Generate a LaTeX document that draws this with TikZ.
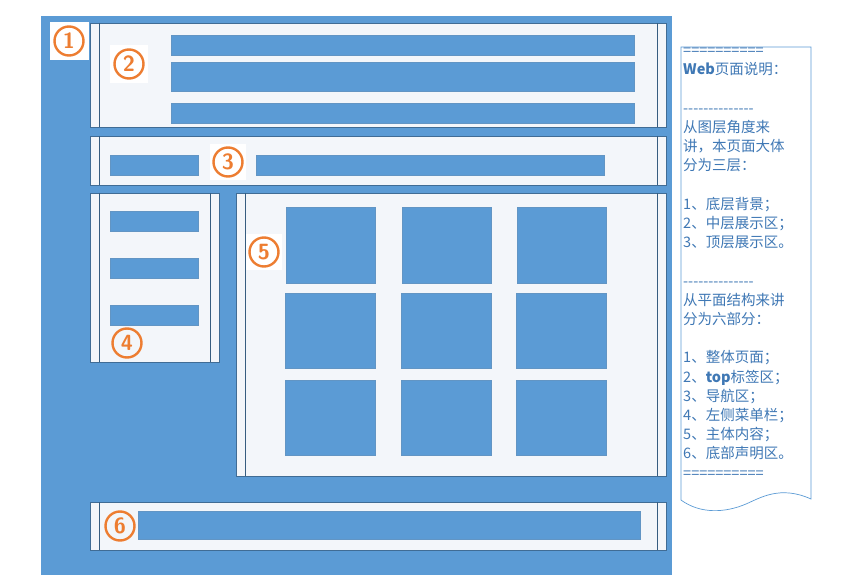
\documentclass[tikz,border=0pt]{standalone}
\usepackage{fontspec}
\newfontfamily\cjk{Noto Sans CJK SC}
\definecolor{mb}{HTML}{5B9BD5}
\definecolor{pl}{HTML}{F3F6FA}
\definecolor{og}{HTML}{ED7D31}
\definecolor{tx}{HTML}{3F78B5}
\tikzset{
 panel/.style={fill=pl,draw=mb!70!black,line width=0.6pt},
 bar/.style={fill=mb,draw=mb!80!gray,line width=0.4pt},
 numc/.style={circle,draw=og,line width=2.4pt,minimum size=29pt,inner sep=0pt,text=og,font=\sffamily\bfseries\fontsize{22}{22}\selectfont},
}
\begin{document}
\begin{tikzpicture}[x=1pt,y=-1pt]
\useasboundingbox (0,0) rectangle (844,580);
\fill[mb] (41,16) rectangle (672,575);
\newcommand\pnl[4]{\draw[panel] (#1,#2) rectangle (#3,#4);
 \draw[mb!60!black,line width=0.5pt] (#1+9,#2) -- (#1+9,#4) (#3-9,#2) -- (#3-9,#4);}
\pnl{90}{23}{666}{127}
\pnl{90}{136}{666}{185}
\pnl{90}{193}{219}{362}
\pnl{236}{193}{666}{476}
\pnl{90}{502}{666}{550}
\draw[bar] (171,35) rectangle (634,55);
\draw[bar] (171,62) rectangle (634,91);
\draw[bar] (171,103) rectangle (634,123);
\draw[bar] (110,155) rectangle (198,175);
\draw[bar] (256,155) rectangle (604,175);
\draw[bar] (110,211) rectangle (198,231);
\draw[bar] (110,258) rectangle (198,278);
\draw[bar] (110,305) rectangle (198,325);
\draw[bar] (138,511) rectangle (640,539);
\foreach \x in {286,402,517}{
 \draw[bar] (\x,207) rectangle ++(89,76);
 \draw[bar] (\x-1,293) rectangle ++(90,75);
 \draw[bar] (\x-1,380) rectangle ++(90,75);}
\fill[white] (50,22) rectangle (89,60);
\fill[white] (110,45) rectangle (148,83);
\fill[white] (210,144) rectangle (246,180);
\fill[white] (246,234) rectangle (282,270);
\node[numc] (n1) at (69,41) {1};
\node[numc] (n2) at (129,64) {2};
\node[numc] (n3) at (228,162) {3};
\node[numc] (n4) at (127,343) {4};
\node[numc] (n5) at (264,252) {5};
\node[numc] (n6) at (120,526) {6};
\draw[mb,line width=0.7pt,fill=white] (681,47) -- (811,47) -- (811,499)
  .. controls (780,485) and (760,498) .. (746,504)
  .. controls (725,513) and (700,514) .. (681,500) -- cycle;
\node[anchor=north west,inner sep=0pt,text=tx,align=left,font=\cjk\fontsize{14.5}{19.2}\selectfont] (note) at (683,48) {%
==========\\
\textbf{Web}页面说明：\\[19.2pt]
--------------\\
从图层角度来\\
讲，本页面大体\\
分为三层：\\[19.2pt]
1、底层背景；\\
2、中层展示区；\\
3、顶层展示区。\\[19.2pt]
--------------\\
从平面结构来讲\\
分为六部分：\\[19.2pt]
1、整体页面；\\
2、\textbf{top}标签区；\\
3、导航区；\\
4、左侧菜单栏；\\
5、主体内容；\\
6、底部声明区。\\
==========};
\end{tikzpicture}
\end{document}
